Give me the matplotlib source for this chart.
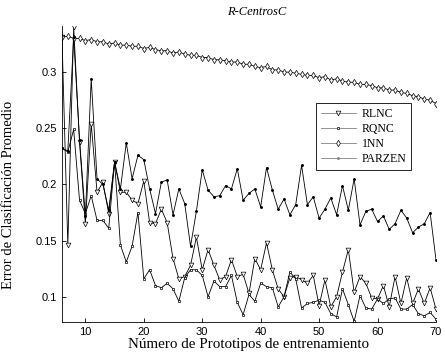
import matplotlib
matplotlib.use('Agg')
import matplotlib.pyplot as plt

# numero de prototipos
x = list(range(6, 71))

rlnc = [0.331, 0.146, 0.340, 0.238, 0.165, 0.254, 0.193, 0.202, 0.174, 0.220,
        0.193, 0.193, 0.186, 0.183, 0.203, 0.166, 0.165, 0.178, 0.166, 0.134,
        0.116, 0.118, 0.128, 0.153, 0.124, 0.142, 0.128, 0.115, 0.118, 0.133,
        0.118, 0.120, 0.103, 0.134, 0.124, 0.148, 0.124, 0.107, 0.100, 0.117,
        0.118, 0.115, 0.112, 0.119, 0.092, 0.115, 0.091, 0.100, 0.122, 0.142,
        0.104, 0.118, 0.112, 0.099, 0.098, 0.110, 0.091, 0.118, 0.094, 0.117,
        0.094, 0.107, 0.094, 0.108, 0.089]

rqnc = [0.232, 0.229, 0.249, 0.186, 0.174, 0.190, 0.168, 0.168, 0.161, 0.220,
        0.146, 0.131, 0.145, 0.175, 0.116, 0.124, 0.110, 0.108, 0.112, 0.107,
        0.096, 0.117, 0.124, 0.124, 0.119, 0.100, 0.114, 0.109, 0.109, 0.119,
        0.095, 0.084, 0.102, 0.096, 0.112, 0.109, 0.108, 0.091, 0.100, 0.122,
        0.116, 0.090, 0.094, 0.095, 0.097, 0.095, 0.085, 0.082, 0.107, 0.093,
        0.078, 0.101, 0.090, 0.089, 0.098, 0.094, 0.098, 0.099, 0.089, 0.089,
        0.093, 0.085, 0.083, 0.086, 0.080]

nn1 = [0.331, 0.332, 0.330, 0.330, 0.328, 0.329, 0.327, 0.327, 0.325, 0.326,
       0.324, 0.324, 0.323, 0.323, 0.321, 0.322, 0.320, 0.319, 0.319, 0.317,
       0.318, 0.316, 0.315, 0.315, 0.313, 0.313, 0.311, 0.311, 0.310, 0.309,
       0.309, 0.307, 0.307, 0.305, 0.304, 0.305, 0.302, 0.302, 0.300, 0.300,
       0.299, 0.298, 0.297, 0.297, 0.295, 0.296, 0.293, 0.294, 0.292, 0.291,
       0.291, 0.289, 0.289, 0.288, 0.286, 0.286, 0.284, 0.284, 0.282, 0.281,
       0.279, 0.278, 0.276, 0.275, 0.272]

parzen = [0.232, 0.230, 0.331, 0.240, 0.172, 0.294, 0.205, 0.200, 0.177, 0.220,
          0.196, 0.237, 0.205, 0.226, 0.222, 0.196, 0.174, 0.202, 0.204, 0.173,
          0.196, 0.183, 0.145, 0.176, 0.213, 0.195, 0.189, 0.190, 0.199, 0.196,
          0.214, 0.186, 0.192, 0.196, 0.180, 0.215, 0.195, 0.178, 0.187, 0.173,
          0.182, 0.217, 0.182, 0.189, 0.170, 0.178, 0.188, 0.173, 0.199, 0.177,
          0.205, 0.164, 0.176, 0.178, 0.167, 0.172, 0.160, 0.165, 0.177, 0.170,
          0.157, 0.162, 0.165, 0.175, 0.133]

serif = ['Liberation Serif', 'DejaVu Serif']
sans = ['Liberation Sans', 'DejaVu Sans']

fig = plt.figure(figsize=(4.45, 3.57), dpi=100)
ax = fig.add_axes([0.1393, 0.098, 0.8404, 0.829])

ax.plot(x, rlnc, color='black', lw=0.6, marker='v', ms=3.4, mfc='white',
        mec='black', mew=0.5, label='RLNC')
ax.plot(x, rqnc, color='black', lw=0.6, marker='s', ms=2.0, mfc='white',
        mec='black', mew=0.5, label='RQNC')
ax.plot(x, nn1, color='black', lw=0.6, marker='d', ms=3.2, mfc='white',
        mec='black', mew=0.5, label='1NN')
ax.plot(x, parzen, color='black', lw=0.6, marker='.', ms=2.2,
        label='PARZEN')

ax.set_xlim(6, 70)
ax.set_ylim(0.0775, 0.341)
ax.set_xticks([10, 20, 30, 40, 50, 60, 70])
ax.set_yticks([0.1, 0.15, 0.2, 0.25, 0.3])
ax.set_yticklabels(['0.1', '0.15', '0.2', '0.25', '0.3'])
ax.tick_params(direction='in', length=3, width=0.6, labelsize=8)
for lab in ax.get_xticklabels() + ax.get_yticklabels():
    lab.set_family(sans)

ax.spines['top'].set_visible(False)
ax.spines['right'].set_visible(False)
ax.spines['left'].set_linewidth(0.6)
ax.spines['bottom'].set_linewidth(0.6)

ax.set_title('R-CentrosC', family=serif, style='italic', fontsize=9,
             x=0.52, pad=8)
ax.set_xlabel('Número de Prototipos de entrenamiento', family=serif,
              fontsize=10.8, labelpad=1)
ax.set_ylabel('Error de Clasificación Promedio', family=serif,
              fontsize=10.5)
ax.yaxis.set_label_coords(-0.126, 0.43)

leg = ax.legend(loc='upper left', bbox_to_anchor=(0.679, 0.739),
                borderaxespad=0, prop={'family': serif, 'size': 8.5},
                fancybox=False, edgecolor='black', framealpha=1,
                handlelength=3.0, handletextpad=0.5, borderpad=0.4,
                labelspacing=0.25)
leg.get_frame().set_linewidth(0.6)
for line in leg.get_lines():
    line.set_color('gray')

fig.savefig('out.png', dpi=100)
